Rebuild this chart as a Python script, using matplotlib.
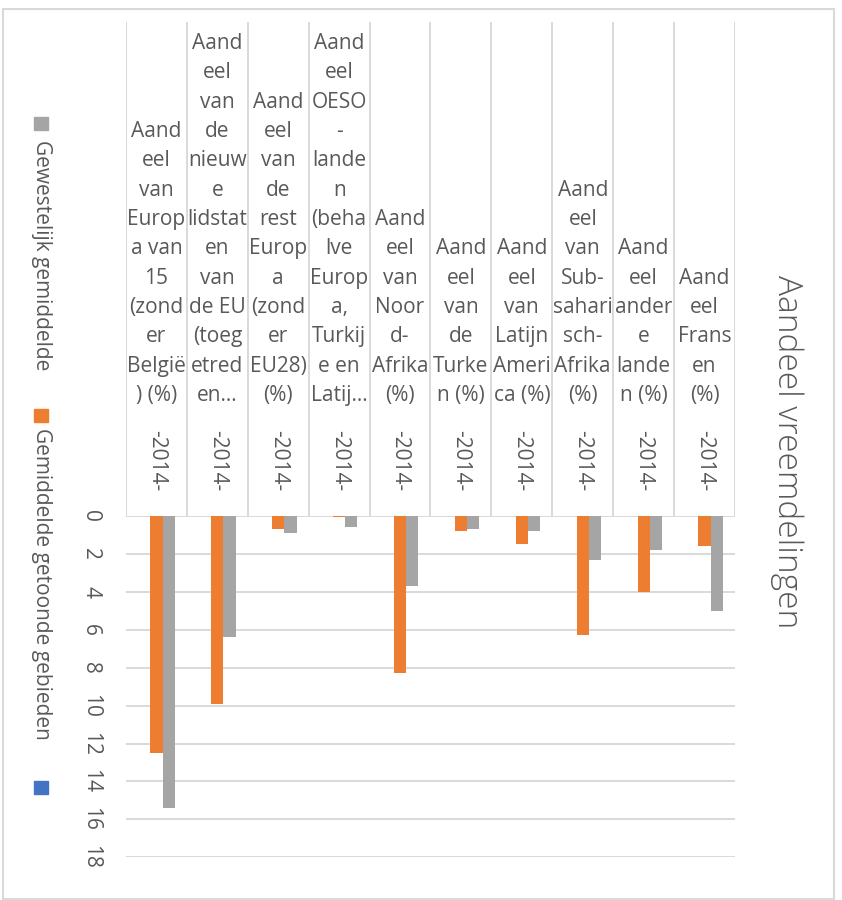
import numpy as np
import matplotlib.pyplot as plt
from matplotlib.patches import Rectangle

plt.rcParams['font.family'] = ['Open Sans', 'DejaVu Sans']

# Data
categories = [
    "Aand\neel\nvan\nEurop\na van\n15\n(zond\ner\nBelgië\n) (%)",
    "Aand\neel\nvan\nde\nnieuw\ne\nlidstat\nen\nvan\nde EU\n(toeg\netred\nen…",
    "Aand\neel\nvan\nde\nrest\nEurop\na\n(zond\ner\nEU28)\n(%)",
    "Aand\neel\nOESO\n-\nlande\nn\n(beha\nlve\nEurop\na,\nTurkij\ne en\nLatij…",
    "Aand\neel\nvan\nNoor\nd-\nAfrika\n(%)",
    "Aand\neel\nvan\nde\nTurke\nn (%)",
    "Aand\neel\nvan\nLatijn\nAmeri\nca (%)",
    "Aand\neel\nvan\nSub-\nsahari\nsch-\nAfrika\n(%)",
    "Aand\neel\nander\ne\nlande\nn (%)",
    "Aand\neel\nFrans\nen\n(%)",
]
year_label = "-2014-"
series_names = ["", "Gemiddelde getoonde gebieden", "Gewestelijk gemiddelde"]
blue_vals = [0, 0, 0, 0, 0, 0, 0, 0, 0, 0]
orange_vals = [12.5, 9.9, 0.7, 0.05, 8.3, 0.8, 1.5, 6.3, 4.0, 1.6]
gray_vals = [15.4, 6.4, 0.9, 0.6, 3.7, 0.7, 0.8, 2.3, 1.8, 5.0]
colors = ["#4472C4", "#ED7D31", "#A5A5A5"]
title = "Aandeel vreemdelingen"
yticks = list(range(0, 19, 2))

W, H = 842, 900
fig = plt.figure(figsize=(W / 100, H / 100), dpi=100)
txt = "#595959"
grid_c = "#d9d9d9"

# main plot area
ax = fig.add_axes([126 / W, (H - 857.3) / H, 609 / W, 341.3 / H])
x = np.arange(len(categories))
bw = 0.2
for k, vals in enumerate([blue_vals, orange_vals, gray_vals]):
    ax.bar(x + (k - 1) * bw, vals, width=bw, color=colors[k], zorder=3)
ax.set_xlim(-0.5, len(categories) - 0.5)
ax.set_ylim(18, 0)
ax.set_yticks(yticks)
ax.set_yticklabels([str(t) for t in yticks], rotation=270, fontsize=15,
                   color=txt, va="center")
ax.tick_params(axis="y", length=0, pad=18)
ax.set_xticks([])
ax.yaxis.grid(True, color=grid_c, lw=1.4, zorder=0)
for s in ax.spines.values():
    s.set_visible(False)

# category label area
axt = fig.add_axes([126 / W, (H - 516) / H, 609 / W, 494 / H])
axt.set_xlim(-0.5, len(categories) - 0.5)
axt.set_ylim(0, 1)
axt.axis("off")
for b in np.arange(-0.5, len(categories), 1.0):
    axt.axvline(b, color=grid_c, lw=1.4)
for i, lab in enumerate(categories):
    axt.text(i, (516 - 406) / 494, lab, ha="center", va="bottom",
             multialignment="center", fontsize=15, color=txt, linespacing=1.52)
    axt.text(i, (516 - 461) / 494, year_label, ha="center", va="center",
             rotation=270, fontsize=15, color=txt)

# legend (rotated)
leg = [(2, 117, 140), (1, 409, 428), (0, 781, 800)]
for k, sq_y, ty in leg:
    fig.patches.append(Rectangle((34 / W, (H - sq_y - 13) / H), 14 / W, 13 / H,
                                 transform=fig.transFigure, color=colors[k]))
    if series_names[k]:
        fig.text(41 / W, (H - ty) / H, series_names[k], rotation=270,
                 ha="center", va="top", fontsize=15, color=txt)

# title
fig.text(787 / W, (H - 452) / H, title, rotation=270, ha="center", va="center",
         fontsize=24, color=txt, fontweight="light")

# outer border
fig.patches.append(Rectangle((3 / W, 1 / H), 831 / W, (890) / H,
                             transform=fig.transFigure, fill=False,
                             edgecolor=grid_c, lw=1.5))

fig.savefig("out.png", dpi=100)
